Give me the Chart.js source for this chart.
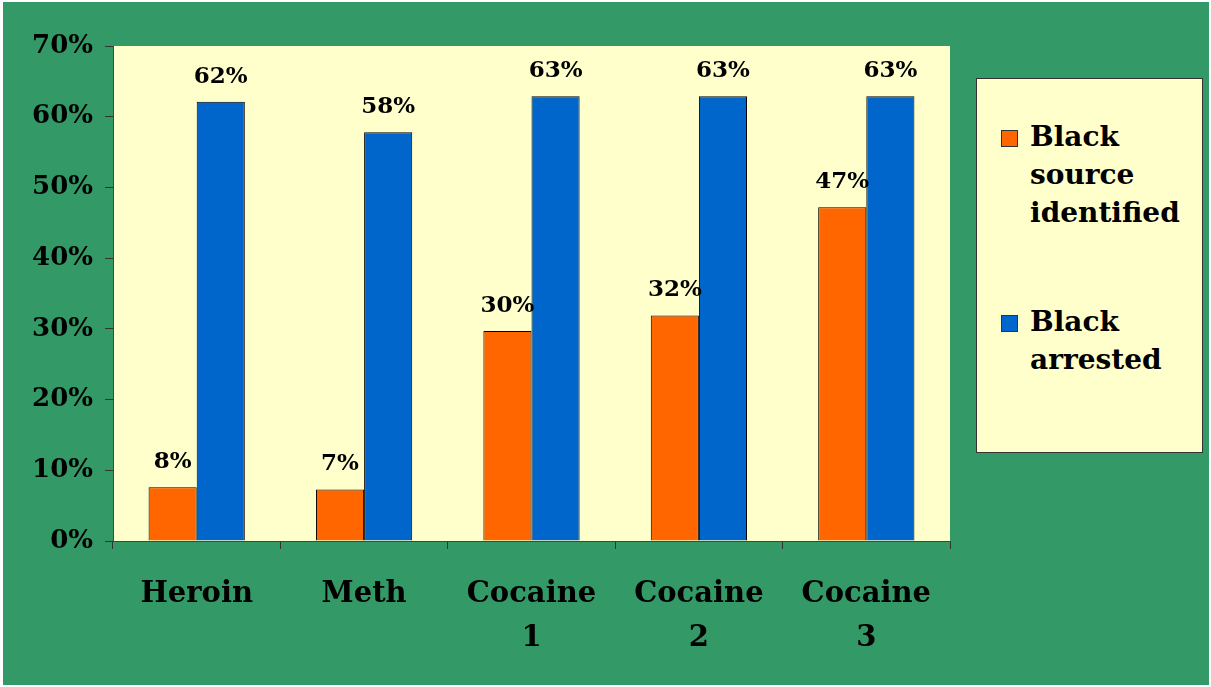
<!DOCTYPE html>
<html>
<head>
<meta charset="utf-8">
<script src="https://cdn.jsdelivr.net/npm/chart.js@4/dist/chart.umd.min.js"></script>
<style>
  html, body { margin: 0; padding: 0; background: #fff; }
  #bg { position: absolute; left: 3px; top: 2px; width: 1206px; height: 683px; background: #339966; }
  #chart { position: absolute; left: 0; top: 0; }
  #legend {
    position: absolute; left: 976px; top: 78px; width: 225px; height: 373px;
    background: #FFFFCC; border: 1px solid #333;
    font: bold 28px "DejaVu Serif", serif; color: #000;
  }
  #legend .item { position: absolute; left: 53px; line-height: 38px; }
  #legend .box { position: absolute; left: -29px; top: 12px; width: 15px; height: 15px; border: 1px solid #333; }
</style>
</head>
<body>
<div id="bg"></div>
<canvas id="chart" width="1211" height="687"></canvas>
<div id="legend"></div>
<script>
const categories = ['Heroin', 'Meth', ['Cocaine', '1'], ['Cocaine', '2'], ['Cocaine', '3']]
const sourceIdentified = [7.6, 7.3, 29.7, 31.9, 47.2]
const arrested = [62.1, 57.8, 62.9, 62.9, 62.9]
const seriesNames = [['Black', 'source', 'identified'], ['Black', 'arrested']]
const seriesColors = ['#FF6600', '#0066CC']
const yTicks = [0, 10, 20, 30, 40, 50, 60, 70]

const font = '"DejaVu Serif", serif'

// light yellow plot area
const plotBackground = {
    id: 'plotBackground',
    beforeDraw(chart) {
        const { ctx, chartArea } = chart
        ctx.save()
        ctx.fillStyle = '#FFFFCC'
        ctx.fillRect(chartArea.left, chartArea.top, chartArea.right - chartArea.left, chartArea.bottom - chartArea.top)
        ctx.restore()
    }
}

// percent labels above each bar
const valueLabels = {
    id: 'valueLabels',
    afterDatasetsDraw(chart) {
        const ctx = chart.ctx
        ctx.save()
        ctx.font = 'bold 23px ' + font
        ctx.fillStyle = '#000'
        ctx.textAlign = 'center'
        ctx.textBaseline = 'middle'
        chart.data.datasets.forEach((ds, i) => {
            chart.getDatasetMeta(i).data.forEach((bar, j) => {
                ctx.fillText(Math.round(ds.data[j]) + '%', bar.x, bar.y - 25)
            })
        })
        ctx.restore()
    }
}

const chart = new Chart(document.getElementById('chart'), {
    type: 'bar',
    data: {
        labels: categories,
        datasets: [{
            label: seriesNames[0].join(' '),
            data: sourceIdentified,
            backgroundColor: seriesColors[0],
        }, {
            label: seriesNames[1].join(' '),
            data: arrested,
            backgroundColor: seriesColors[1],
        }]
    },
    options: {
        responsive: false,
        animation: false,
        layout: {
            padding: { left: 0, top: 46, right: 261, bottom: 0 }
        },
        datasets: {
            bar: {
                categoryPercentage: 0.575,
                barPercentage: 1,
                borderColor: '#000',
                borderWidth: 1,
            }
        },
        plugins: {
            legend: { display: false },
            tooltip: { enabled: false },
        },
        scales: {
            x: {
                grid: { display: true, drawOnChartArea: false, tickLength: 8, color: '#333', offset: true },
                border: { color: '#444', width: 1 },
                ticks: {
                    color: '#000',
                    padding: 24,
                    maxRotation: 0,
                    font: { family: font, size: 29, weight: 'bold', lineHeight: 1.5 },
                },
                afterFit: (scale) => { scale.height = 146 }
            },
            y: {
                min: 0,
                max: 70,
                afterBuildTicks: (scale) => { scale.ticks = yTicks.map(v => ({ value: v })) },
                grid: { display: true, drawOnChartArea: false, tickLength: 8, color: '#333' },
                border: { color: '#444', width: 1 },
                ticks: {
                    color: '#000',
                    padding: 12,
                    font: { family: font, size: 26, weight: 'bold' },
                    callback: (val) => `${val}%`
                },
                afterFit: (scale) => { scale.width = 113 }
            }
        }
    },
    plugins: [plotBackground, valueLabels]
})

// legend box, built from the series names and colours
const legend = document.getElementById('legend')
const tops = [39, 224]
seriesNames.forEach((lines, i) => {
    const item = document.createElement('div')
    item.className = 'item'
    item.style.top = tops[i] + 'px'
    item.innerHTML = `<span class="box" style="background:${seriesColors[i]}"></span>` + lines.join('<br>')
    legend.appendChild(item)
})
</script>
</body>
</html>
